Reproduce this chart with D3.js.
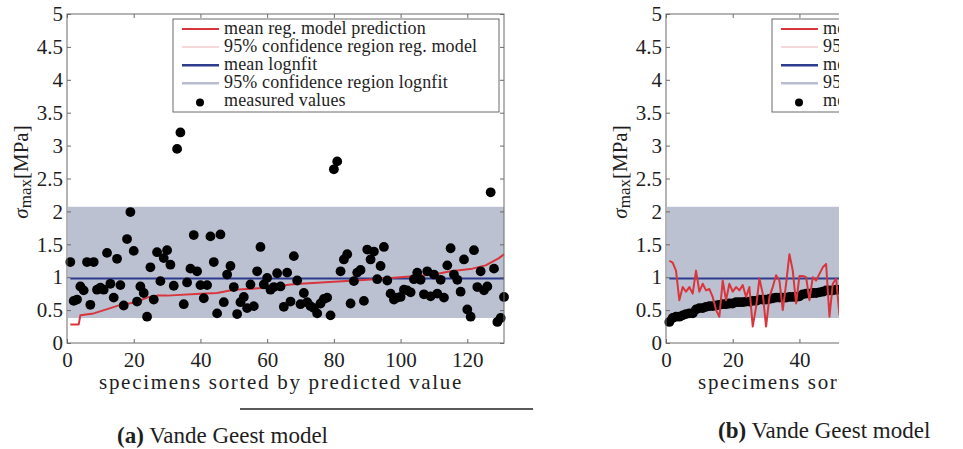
<!DOCTYPE html>
<html>
<head>
<meta charset="utf-8">
<script src="https://cdn.jsdelivr.net/npm/d3@7"></script>
<style>
body { margin: 0; background: #fff; }
text { font-family: "Liberation Serif", "Times New Roman", serif; fill: #1e1e1e; }
</style>
</head>
<body>
<svg id="chart" width="963" height="449"></svg>
<script>
// measured sigma_max [MPa], specimens 1..131 in order of predicted value
var measuredA = [
    1.23, 0.64, 0.66, 0.86, 0.80, 1.23, 0.58, 1.23, 0.81, 0.84,
    0.81, 1.37, 0.90, 0.69, 1.28, 0.88, 0.57, 1.58, 1.99, 1.40,
    0.63, 0.86, 0.76, 0.40, 1.15, 0.66, 1.38, 0.94, 1.29, 1.41,
    1.19, 0.87, 2.95, 3.20, 0.59, 0.92, 1.13, 1.64, 1.09, 0.88,
    0.68, 0.88, 1.62, 1.23, 0.45, 1.65, 0.62, 1.04, 1.17, 0.85,
    0.44, 0.62, 0.70, 0.53, 0.89, 0.56, 1.09, 1.46, 0.89, 0.99,
    0.81, 0.85, 1.06, 0.86, 0.55, 1.07, 0.63, 1.32, 0.95, 0.59,
    0.76, 0.62, 0.56, 0.53, 0.45, 0.60, 0.67, 0.69, 0.42, 2.64,
    2.76, 1.09, 1.27, 1.35, 0.60, 0.94, 1.07, 1.11, 0.64, 1.42,
    1.27, 1.39, 0.97, 1.17, 1.46, 0.95, 0.75, 0.66, 0.69, 0.70,
    0.81, 0.80, 0.77, 0.97, 1.07, 0.96, 0.74, 1.09, 0.71, 1.04,
    0.75, 0.96, 0.69, 1.18, 1.44, 1.04, 0.96, 0.78, 1.27, 0.51,
    0.40, 1.41, 0.85, 1.09, 0.80, 0.86, 2.29, 1.13, 0.32, 0.38,
    0.70
];

// mean regression model prediction (a), vertices [specimen, value]
var predictionA = [
    [1, 0.28], [3.5, 0.28], [4, 0.42], [8, 0.45], [13, 0.53], [16, 0.58],
    [20, 0.61], [24, 0.69], [27, 0.72], [30, 0.72], [40, 0.75], [45, 0.76],
    [50, 0.81], [60, 0.84], [67, 0.89], [70, 0.90], [80, 0.93], [90, 0.96],
    [100, 1.00], [110, 1.04], [115, 1.09], [121.5, 1.13], [125.5, 1.18],
    [129.5, 1.29], [131, 1.35]
];

// mean regression model prediction (b), specimens sorted by measured value
var predictionB = [
    1.25, 1.22, 1.10, 0.65, 0.85, 0.78, 0.85, 0.75, 1.10, 0.78,
    0.90, 0.80, 0.82, 0.70, 0.50, 0.40, 0.95, 0.65, 0.90, 0.78,
    0.85, 0.80, 0.88, 0.70, 0.85, 0.25, 0.55, 0.98, 0.75, 0.25,
    0.70, 0.85, 1.03, 0.95, 0.50, 0.90, 1.35, 1.10, 0.60, 1.02,
    1.02, 1.00, 0.65, 1.00, 0.95, 1.05, 1.15, 1.20, 0.40, 0.90,
    0.98, 0.42
];

var lognfitMean = 0.98;
var lognfitBand = [0.38, 2.07];

var xTicks = [0, 20, 40, 60, 80, 100, 120];
var yTicks = [0, 0.5, 1, 1.5, 2, 2.5, 3, 3.5, 4, 4.5, 5];

var legendLabels = [
    "mean reg. model prediction",
    "95% confidence region reg. model",
    "mean lognfit",
    "95% confidence region lognfit",
    "measured values"
];

var RED = "#d8363c", PINK = "#f6d8db", BLUE = "#2c3b8c", BANDLINE = "#b8bdcf", BAND = "#bcc1d2";

var svg = d3.select("#chart");
// panel (b) is cropped on the right in the source figure
svg.append("defs").append("clipPath").attr("id", "clipB")
    .append("rect").attr("x", 0).attr("y", 0).attr("width", 839).attr("height", 449);

function drawPanel(cfg) {
    var outer = svg.append("g");
    if (cfg.clip) {
        outer.attr("clip-path", "url(#" + cfg.clip + ")");
    }
    var g = outer.append("g").attr("transform", "translate(" + cfg.dx + ",0)");

    var x = d3.scaleLinear().domain([0, 131]).range([67, 504]);
    var y = d3.scaleLinear().domain([0, 5]).range([343, 14]);

    // 95% confidence band of the lognormal fit
    g.append("rect")
        .attr("x", x(0) + 1).attr("width", x(131) - x(0) - 1)
        .attr("y", y(lognfitBand[1])).attr("height", y(lognfitBand[0]) - y(lognfitBand[1]))
        .attr("fill", BAND);

    var line = d3.line().x(function (d) { return x(d[0]); }).y(function (d) { return y(d[1]); });

    g.append("path").datum([[1, lognfitMean], [131, lognfitMean]])
        .attr("d", line).attr("fill", "none").attr("stroke", BLUE).attr("stroke-width", 2);

    var drawPred = function () {
        g.append("path").datum(cfg.prediction)
            .attr("d", line).attr("fill", "none").attr("stroke", RED)
            .attr("stroke-width", 2).attr("stroke-linejoin", "round");
    };
    if (!cfg.predOnTop) drawPred();

    g.append("g").selectAll("circle").data(cfg.measured).join("circle")
        .attr("cx", function (d, i) { return x(i + 1); })
        .attr("cy", function (d) { return y(d); })
        .attr("r", 4.9).attr("fill", "#000");

    if (cfg.predOnTop) drawPred();

    // axes, MATLAB style: box with inward ticks on all sides
    var axisColor = "#6a6a6a";
    var fmt = d3.format("~g");
    var xb = g.append("g").attr("transform", "translate(0,343)")
        .call(d3.axisBottom(x).tickValues(cfg.xTicks).tickFormat(fmt).tickSizeInner(-4).tickSizeOuter(0).tickPadding(9));
    var xt = g.append("g").attr("transform", "translate(0,14)")
        .call(d3.axisTop(x).tickValues(cfg.xTicks).tickSizeInner(-4).tickSizeOuter(0).tickFormat(""));
    var yl = g.append("g").attr("transform", "translate(67,0)")
        .call(d3.axisLeft(y).tickValues(yTicks).tickFormat(fmt).tickSizeInner(-4).tickSizeOuter(0).tickPadding(4));
    var yr = g.append("g").attr("transform", "translate(504,0)")
        .call(d3.axisRight(y).tickValues(cfg.rightTicks ? yTicks : []).tickSizeInner(-4).tickSizeOuter(0).tickFormat(""));
    [xb, xt, yl, yr].forEach(function (a) {
        a.select(".domain").remove();
        a.attr("font-family", null).attr("font-size", null);
        a.selectAll("line").attr("stroke", axisColor);
        a.selectAll("text").attr("font-size", 21).attr("fill", "#1e1e1e");
    });
    g.append("rect").attr("x", 67).attr("y", 14).attr("width", 437).attr("height", 329)
        .attr("fill", "none").attr("stroke", axisColor).attr("stroke-width", 1);

    // axis titles
    g.append("text").attr("x", 281).attr("y", 389).attr("text-anchor", "middle")
        .attr("font-size", 21).attr("letter-spacing", 1.7)
        .text("specimens sorted by predicted value");
    var yt = g.append("text").attr("transform", "translate(28,172) rotate(-90)")
        .attr("text-anchor", "middle").attr("font-size", 21);
    yt.append("tspan").attr("font-style", "italic").text("σ");
    yt.append("tspan").attr("font-size", 17).attr("dy", 3).text("max");
    yt.append("tspan").attr("dy", -3).text("[MPa]");

    // legend
    var lg = g.append("g");
    lg.append("rect").attr("x", 173).attr("y", 19).attr("width", 326).attr("height", 93)
        .attr("fill", "#fff").attr("stroke", axisColor);
    var swatches = [
        { stroke: RED, w: 2 }, { stroke: PINK, w: 2 }, { stroke: BLUE, w: 2.5 },
        { stroke: BANDLINE, w: 2.5 }, { dot: true }
    ];
    legendLabels.forEach(function (label, i) {
        var cy = 29 + i * 18.1;
        var s = swatches[i];
        if (s.dot) {
            lg.append("circle").attr("cx", 200).attr("cy", cy + 1).attr("r", 4).attr("fill", "#000");
        } else {
            lg.append("line").attr("x1", 182).attr("x2", 219).attr("y1", cy).attr("y2", cy)
                .attr("stroke", s.stroke).attr("stroke-width", s.w);
        }
        lg.append("text").attr("x", 224).attr("y", cy + 5).attr("font-size", 18)
            .attr("letter-spacing", 0.15).text(label);
    });
}

drawPanel({ dx: 0, measured: measuredA, prediction: predictionA, predOnTop: false,
    xTicks: xTicks, rightTicks: true });

var measuredB = d3.sort(measuredA);
var predB = predictionB.map(function (v, i) { return [i + 1, v]; });
drawPanel({ dx: 599, measured: measuredB, prediction: predB, predOnTop: true, clip: "clipB",
    xTicks: xTicks.filter(function (t) { return t <= 50; }), rightTicks: false });

// sub-figure captions
svg.append("line").attr("x1", 240).attr("x2", 533).attr("y1", 409).attr("y2", 409)
    .attr("stroke", "#222").attr("stroke-width", 1.3);

var capA = svg.append("text").attr("x", 117).attr("y", 443).attr("font-size", 23);
capA.append("tspan").attr("font-weight", "bold").text("(a)");
capA.append("tspan").text(" Vande Geest model");

var capB = svg.append("text").attr("x", 718).attr("y", 438).attr("font-size", 23);
capB.append("tspan").attr("font-weight", "bold").text("(b)");
capB.append("tspan").text(" Vande Geest model");
</script>
</body>
</html>
